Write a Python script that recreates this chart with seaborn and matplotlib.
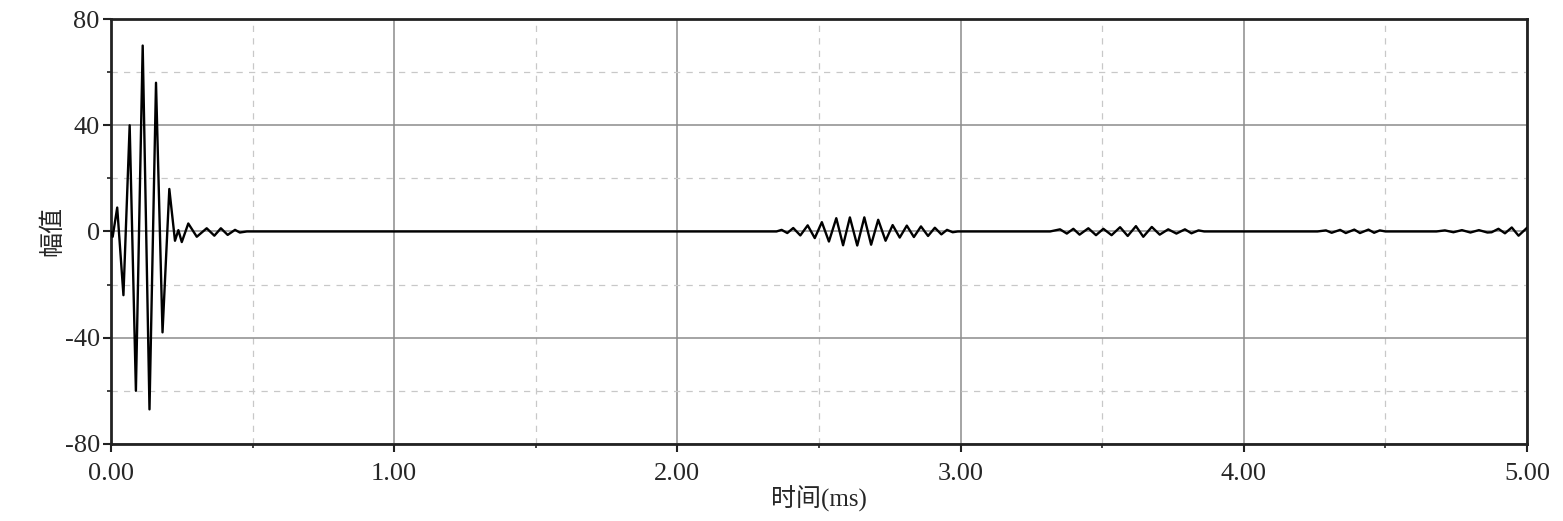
import numpy as np
import pandas as pd
import matplotlib
matplotlib.use("Agg")
import matplotlib.pyplot as plt
import seaborn as sns
from matplotlib.ticker import MultipleLocator, FormatStrFormatter

# ---- data (time in ms, amplitude) ----
burst1_t = [0.0, 0.006, 0.022, 0.044, 0.066, 0.088, 0.112, 0.136, 0.159, 0.182,
            0.206, 0.226, 0.238, 0.250, 0.273, 0.303, 0.338, 0.365, 0.388, 0.412,
            0.438, 0.455, 0.48]
burst1_a = [0, -2, 9, -24, 40, -60, 70, -67, 56, -38,
            16, -3.5, 0.5, -4, 3, -2, 1.2, -1.6, 1.2, -1.3,
            0.6, -0.4, 0]

burst2_t = [2.35, 2.368, 2.388, 2.409, 2.434, 2.460, 2.485, 2.510, 2.535, 2.561,
            2.585, 2.609, 2.635, 2.660, 2.684, 2.709, 2.735, 2.760, 2.785, 2.810,
            2.835, 2.860, 2.885, 2.909, 2.932, 2.952, 2.972, 2.99]
burst2_a = [0, 0.6, -0.6, 1.3, -1.5, 2.3, -2.5, 3.5, -3.8, 5.0,
            -5.2, 5.3, -5.3, 5.3, -5.0, 4.4, -3.5, 2.4, -2.3, 2.2,
            -2.1, 1.9, -1.7, 1.4, -1.1, 0.6, -0.3, 0]

burst3_t = [3.316, 3.351, 3.375, 3.398, 3.42, 3.451, 3.478, 3.504, 3.533, 3.563,
            3.59, 3.619, 3.645, 3.675, 3.703, 3.733, 3.762, 3.792, 3.815, 3.84, 3.86]
burst3_a = [0, 0.8, -0.8, 1.0, -1.2, 1.2, -1.4, 1.0, -1.4, 1.6,
            -1.7, 2.0, -2.0, 1.7, -1.2, 0.8, -0.8, 0.8, -0.7, 0.4, 0]

burst4_t = [4.26, 4.29, 4.31, 4.34, 4.36, 4.39, 4.41, 4.44, 4.46, 4.48, 4.50,
            4.68, 4.71, 4.74, 4.77, 4.80, 4.83, 4.86, 4.875, 4.899, 4.922, 4.946, 4.970, 5.0]
burst4_a = [0, 0.4, -0.5, 0.6, -0.6, 0.7, -0.6, 0.7, -0.5, 0.4, 0,
            0, 0.4, -0.3, 0.5, -0.4, 0.5, -0.4, -0.3, 1.0, -0.7, 1.5, -1.6, 1.4]

x_ticks = [0, 1, 2, 3, 4, 5]
y_ticks = [-80, -40, 0, 40, 80]
x_label = "时间(ms)"
y_label = "幅值"

df = pd.DataFrame({
    "t": burst1_t + burst2_t + burst3_t + burst4_t,
    "a": burst1_a + burst2_a + burst3_a + burst4_a,
})

sns.set_theme(style="white")
plt.rcParams["font.family"] = ["Liberation Serif", "Noto Sans CJK SC", "DejaVu Sans"]
plt.rcParams["axes.unicode_minus"] = False

fig = plt.figure(figsize=(15.63, 5.21), dpi=100)
ax = fig.add_axes([0.071, 0.148, 0.906, 0.8155])

sns.lineplot(data=df, x="t", y="a", ax=ax, color="black", linewidth=1.7,
             estimator=None, sort=False, zorder=3)
for ln in ax.get_lines():
    ln.set_solid_joinstyle("round")

ax.set_xlim(0, 5)
ax.set_ylim(-80, 80)
ax.set_xticks(x_ticks)
ax.set_yticks(y_ticks)
ax.xaxis.set_major_formatter(FormatStrFormatter("%.2f"))
ax.xaxis.set_minor_locator(MultipleLocator(0.5))
ax.yaxis.set_minor_locator(MultipleLocator(20))

ax.grid(which="major", color="#8c8c8c", linewidth=1.1, linestyle="-")
ax.grid(which="minor", color="#c8c8c8", linewidth=0.9, linestyle=(0, (5, 5)))
ax.set_axisbelow(True)

for s in ax.spines.values():
    s.set_visible(True)
    s.set_color("#222222")
    s.set_linewidth(2.0)

ax.tick_params(which="major", direction="out", length=6, width=1.5, color="#222222",
               labelsize=19, bottom=True, left=True)
ax.tick_params(axis="x", which="major", pad=8)
ax.tick_params(axis="y", which="major", pad=2)
ax.tick_params(which="minor", direction="out", length=3, width=1.2, color="#222222",
               bottom=True, left=True)

ax.set_xlabel(x_label, fontsize=18, labelpad=0)
ax.set_ylabel(y_label, fontsize=18, labelpad=0)

fig.savefig("out.png", dpi=100, facecolor="white")
